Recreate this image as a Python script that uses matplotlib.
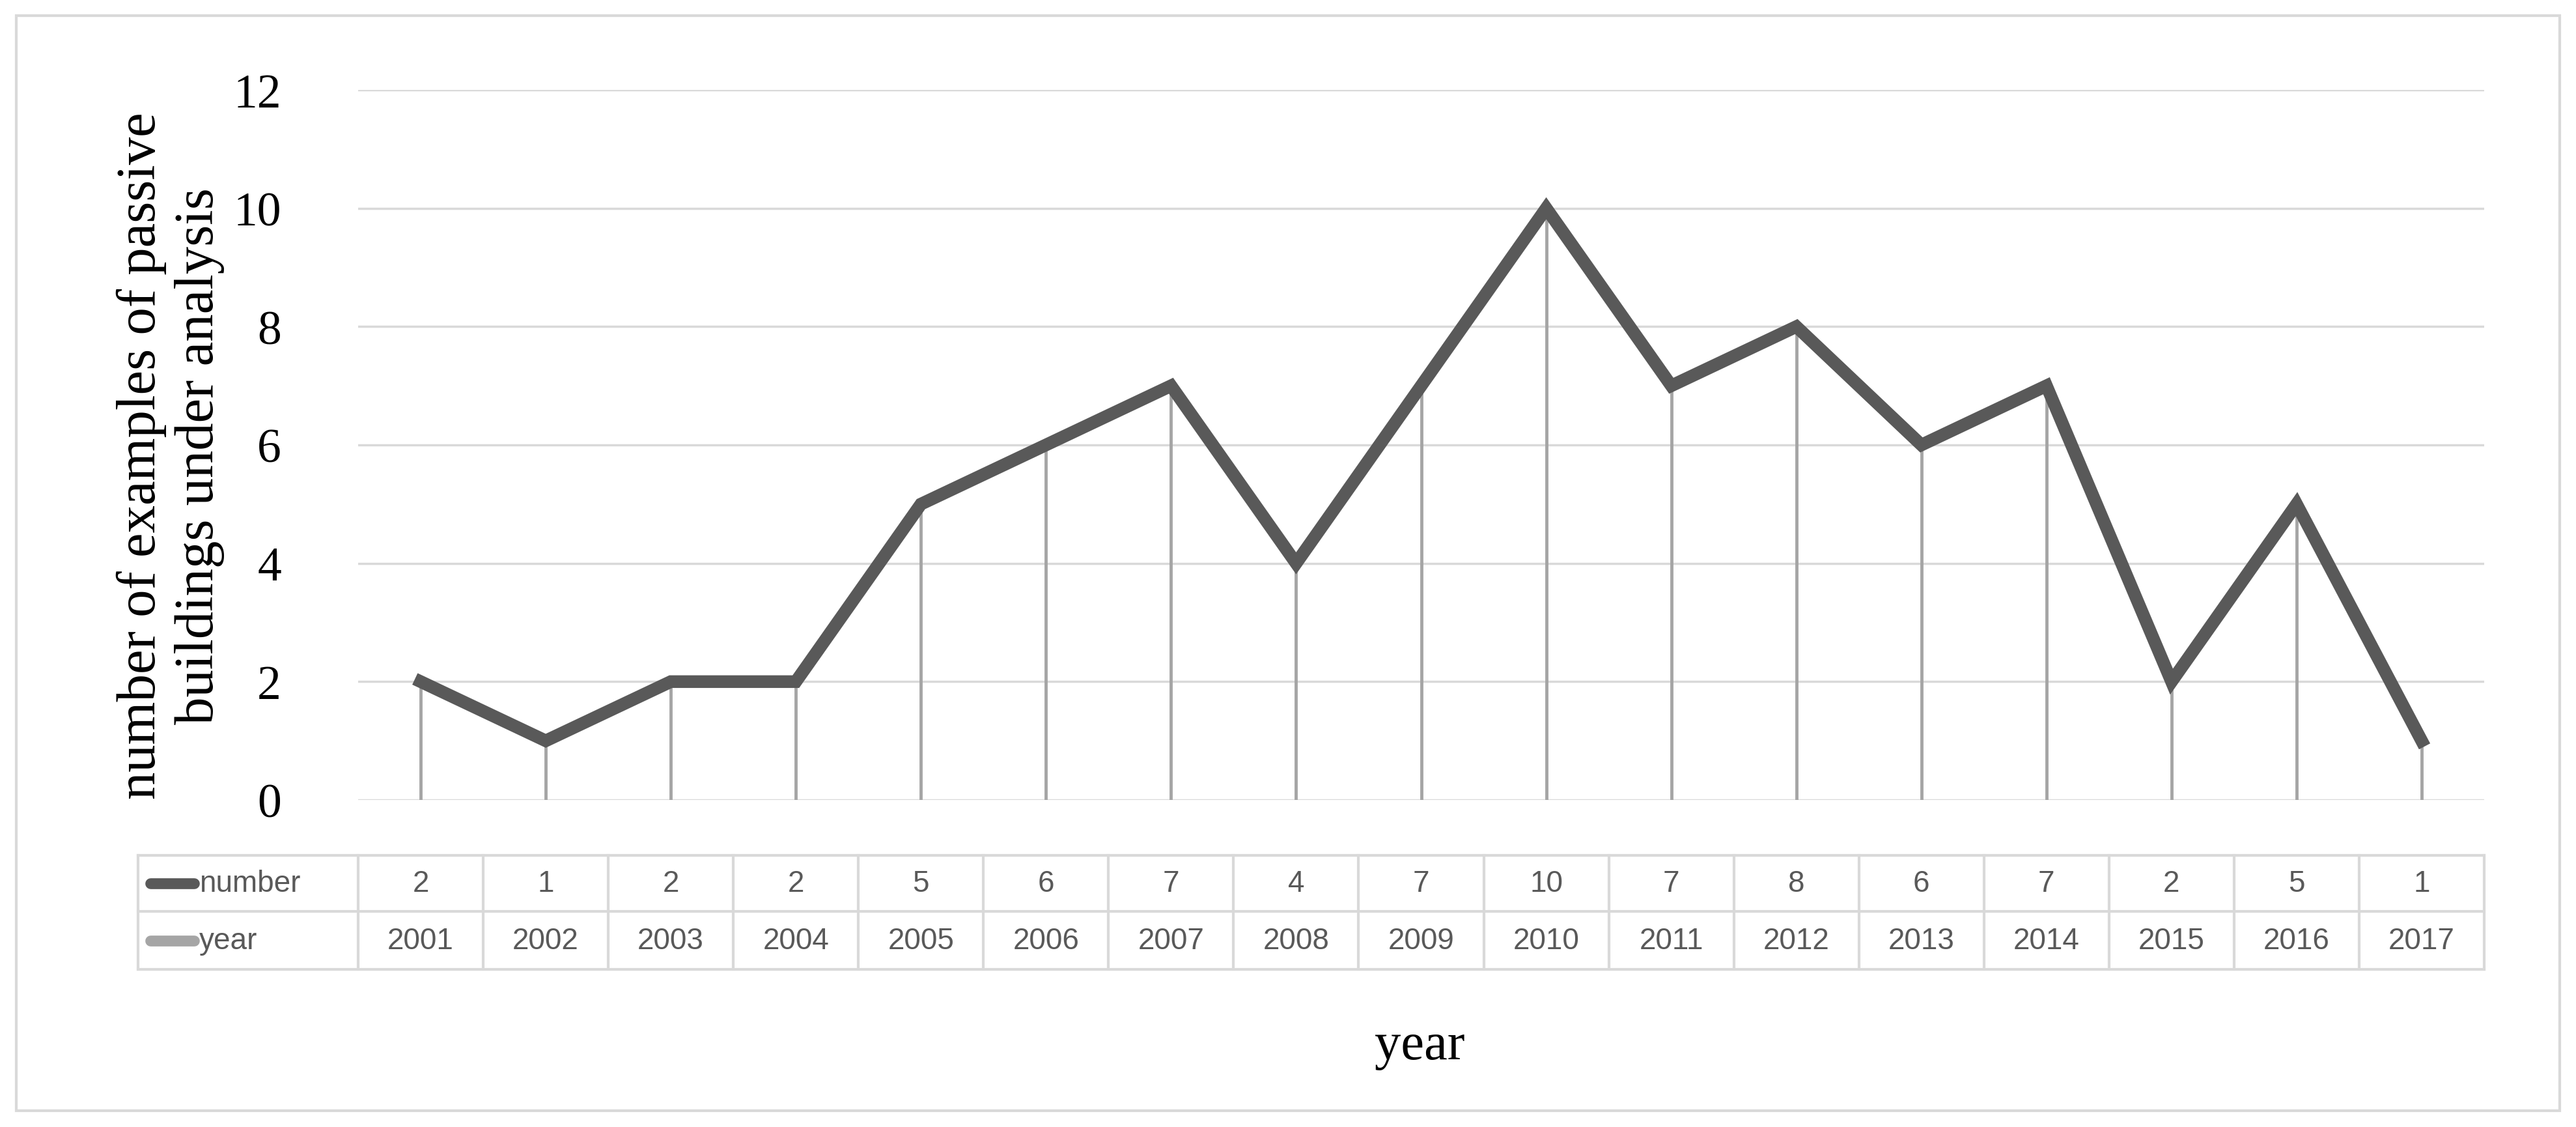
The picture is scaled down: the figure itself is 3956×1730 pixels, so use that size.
import numpy as np
import matplotlib
matplotlib.use("Agg")
import matplotlib.pyplot as plt
import matplotlib.transforms as mtransforms
from matplotlib.patches import Rectangle

# data
years = [2001, 2002, 2003, 2004, 2005, 2006, 2007, 2008, 2009,
         2010, 2011, 2012, 2013, 2014, 2015, 2016, 2017]
number = [2, 1, 2, 2, 5, 6, 7, 4, 7, 10, 7, 8, 6, 7, 2, 5, 1]
yticks = [0, 2, 4, 6, 8, 10, 12]

dark = "#595959"
light = "#a5a5a5"
grid = "#d9d9d9"
serif = ["Liberation Serif", "DejaVu Serif"]
narrow = ["Liberation Sans Narrow", "Liberation Sans", "DejaVu Sans"]

fig = plt.figure(figsize=(39.56, 17.31), dpi=100)
ax = fig.add_axes([550/3956, 1-1229/1731, (3815-550)/3956, 1090/1731])

x = np.arange(len(years))
ax.set_xlim(-0.5, len(years)-0.5)
ax.set_ylim(0, 12)

for t in yticks:
    ax.axhline(t, color=grid, lw=2.5, zorder=1)

# drop lines (year series)
ax.vlines(x, 0, number, color=light, lw=3.5, zorder=2)
ax.plot(x, number, color=dark, lw=14, solid_joinstyle="miter", zorder=3)

ax.set_yticks(yticks)
ax.set_yticklabels([str(t) for t in yticks], fontfamily=serif, fontsize=53, color="black")
ax.tick_params(axis="y", length=0, pad=85)
ax.set_xticks([])
for s in ax.spines.values():
    s.set_visible(False)

# data table under the axis
tr = mtransforms.blended_transform_factory(ax.transData, ax.transAxes)
y_top, y_mid, y_bot = -0.078, -0.157, -0.2385
x_left = -2.26
x_right = len(years) - 0.5
kw = dict(transform=tr, color=grid, lw=3, clip_on=False)
for yy in (y_top, y_mid, y_bot):
    ax.plot([x_left, x_right], [yy, yy], **kw)
for xx in [x_left] + [i - 0.5 for i in range(len(years) + 1)]:
    ax.plot([xx, xx], [y_top, y_bot], **kw)

row1 = (y_top + y_mid) / 2
row2 = (y_mid + y_bot) / 2
for i in range(len(years)):
    ax.text(x[i], row1, str(number[i]), transform=tr, ha="center", va="center",
            fontsize=33, color=dark, fontfamily=narrow)
    ax.text(x[i], row2, str(years[i]), transform=tr, ha="center", va="center",
            fontsize=33, color=dark, fontfamily=narrow)

# legend keys inside the label column
ax.plot([x_left + 0.1, x_left + 0.45], [row1, row1], transform=tr, color=dark,
        lw=12, solid_capstyle="round", clip_on=False)
ax.plot([x_left + 0.1, x_left + 0.45], [row2, row2], transform=tr, color=light,
        lw=12, solid_capstyle="round", clip_on=False)
ax.text(x_left + 0.49, row1, "number", transform=tr, ha="left", va="center",
        fontsize=33, color=dark, fontfamily=narrow)
ax.text(x_left + 0.49, row2, "year", transform=tr, ha="left", va="center",
        fontsize=33, color=dark, fontfamily=narrow)

fig.text(262/3956, 1-700/1731, "number of examples of passive\nbuildings under analysis",
         rotation=90, ha="center", va="center", multialignment="center",
         fontfamily=serif, fontsize=61, linespacing=1.2)
fig.text(2180/3956, 1-1607/1731, "year", ha="center", va="center",
         fontfamily=serif, fontsize=58)

fig.patches.append(Rectangle((25/3956, 25/1731), 1-50/3956, 1-50/1731,
                             transform=fig.transFigure, fill=False,
                             edgecolor=grid, lw=3))

fig.savefig("out.png", dpi=100, facecolor="white")
